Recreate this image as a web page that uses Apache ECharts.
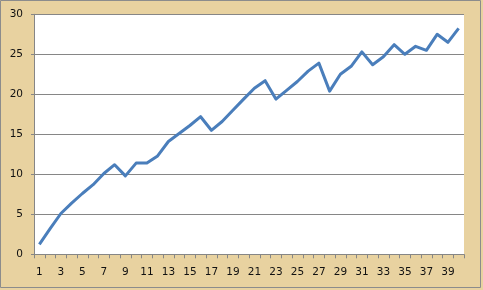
<!DOCTYPE html>
<html>
<head>
<meta charset="utf-8">
<script src="https://cdn.jsdelivr.net/npm/echarts@6/dist/echarts.min.js"></script>
<style>
html,body{margin:0;padding:0;background:#e8d2a0;}
#chart{width:483px;height:290px;}
</style>
</head>
<body>
<div id="chart"></div>
<script>
var categories = ['1','2','3','4','5','6','7','8','9','10','11','12','13','14','15','16','17','18','19','20','21','22','23','24','25','26','27','28','29','30','31','32','33','34','35','36','37','38','39','40'];
var values = [1.25,3.2,5.1,6.4,7.6,8.7,10.1,11.2,9.8,11.4,11.4,12.3,14.1,15.1,16.1,17.2,15.5,16.6,18.0,19.4,20.75,21.7,19.4,20.5,21.6,22.9,23.9,20.4,22.5,23.5,25.3,23.7,24.7,26.2,25.0,26.0,25.5,27.5,26.5,28.25];
var yTicks = [0,5,10,15,20,25,30];

var chart = echarts.init(document.getElementById('chart'), null, {renderer:'canvas'});
chart.setOption({
  backgroundColor: '#e8d2a0',
  animation: false,
  graphic: [{
    type: 'rect',
    shape: {x: 0.5, y: 0.5, width: 480, height: 287},
    style: {fill: 'none', stroke: '#8c8c8c', lineWidth: 1},
    silent: true
  }],
  grid: {
    left: 34, top: 14.3, right: 19, bottom: 35.7,
    show: true, backgroundColor: '#ffffff', borderWidth: 0
  },
  xAxis: {
    type: 'category',
    data: categories,
    boundaryGap: true,
    axisLine: {show: true, lineStyle: {color: '#868686', width: 1}},
    axisTick: {show: true, interval: 0, length: 4, lineStyle: {color: '#868686'}},
    axisLabel: {interval: 1, margin: 12, color: '#111111', fontFamily: 'DejaVu Sans', fontSize: 10.5}
  },
  yAxis: {
    type: 'value',
    min: yTicks[0], max: yTicks[yTicks.length-1], interval: 5,
    axisLine: {show: true, lineStyle: {color: '#868686', width: 1}},
    axisTick: {show: true, length: 3, lineStyle: {color: '#868686'}},
    axisLabel: {margin: 11, color: '#111111', fontFamily: 'DejaVu Sans', fontSize: 10.5},
    splitLine: {show: true, lineStyle: {color: '#868686', width: 1}}
  },
  series: [{
    type: 'line',
    data: values,
    symbol: 'none',
    lineStyle: {color: '#4a7ebb', width: 3, join: 'round'},
    itemStyle: {color: '#4a7ebb'}
  }]
});
</script>
</body>
</html>
